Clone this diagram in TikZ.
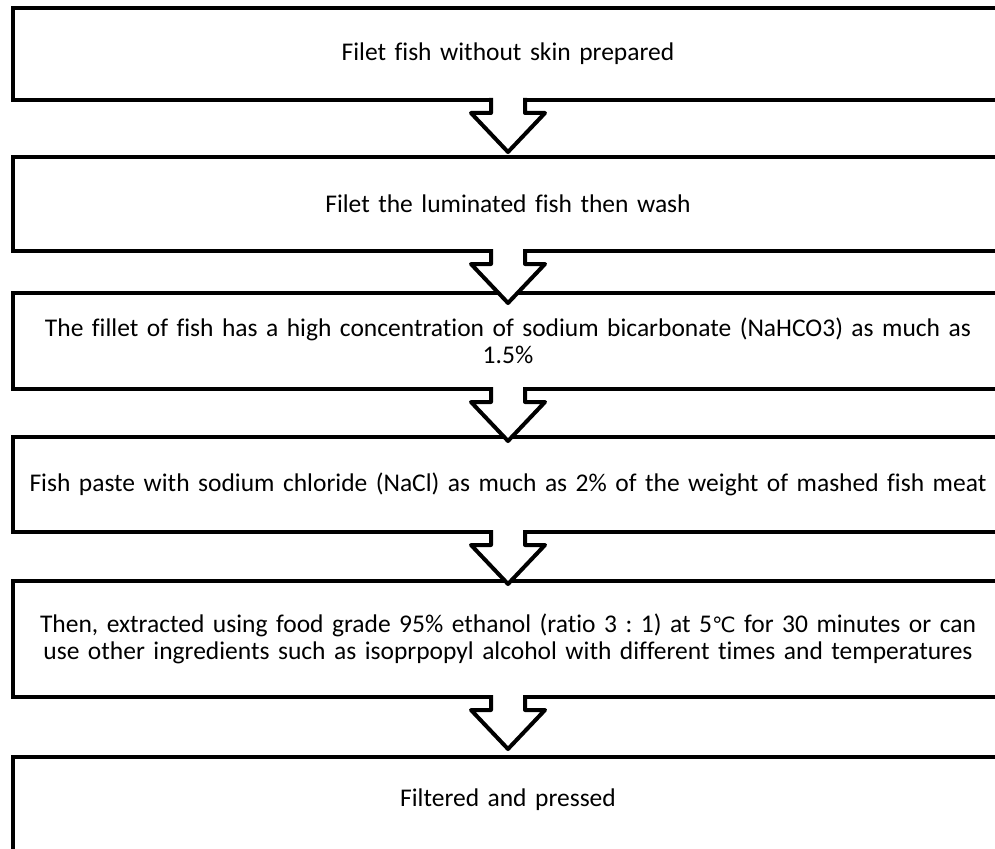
\documentclass[tikz,border=0pt]{standalone}
\usepackage{fontspec}
\setmainfont{Carlito}[Ligatures=NoCommon]
\newfontfamily\degfont{DejaVu Sans}
\usetikzlibrary{calc}
\frenchspacing

\tikzset{
  stepbox/.style={draw=black, line width=4pt, outer sep=0pt, minimum width=990pt,
    text width=980pt, inner xsep=5pt, align=center, font=\fontsize{25.5}{27}\selectfont},
  blockarrow/.style={draw=black, fill=white, line width=4pt, line join=round}
}

\begin{document}
\begin{tikzpicture}[x=1pt,y=-1pt]
    \useasboundingbox (0,0) rectangle (995,848);
    \clip (0,0) rectangle (995,848);

    % Process steps
    \node[stepbox,minimum height=92pt] (prepare) at (508,54) {Filet fish without skin prepared};
    \node[stepbox,minimum height=94pt] (wash) at (508,204) {Filet the luminated fish then wash};
    \node[stepbox,minimum height=96pt] (soak) at (508,341) {The fillet of fish has a high concentration of sodium bicarbonate (NaHCO3) as much as\\ 1.5\%};
    \node[stepbox,minimum height=95pt] (paste) at (508,484.5) {Fish paste with sodium chloride (NaCl) as much as 2\% of the weight of mashed fish meat};
    \node[stepbox,minimum height=116pt] (extract) at (508,639) {Then, extracted using food grade 95\% ethanol (ratio 3 : 1) at 5{\degfont\fontsize{21}{27}\selectfont ℃} for 30 minutes or can\\ use other ingredients such as isoprpopyl alcohol with different times and temperatures};
    \node[stepbox,minimum height=96pt,text depth=14pt] (press) at (508,805) {Filtered and pressed};

    % Block arrows between steps
    \foreach \a/\b in {prepare/wash, wash/soak, soak/paste, paste/extract, extract/press}{
        \draw[blockarrow] let \p1=(\a.south), \p2=(\b.north) in
            (\x2-17pt,\y1+2pt) -- (\x2-17pt,\y1-13pt) -- (\x2-37pt,\y1-13pt) -- (\x2,\y1-52pt)
            -- (\x2+37pt,\y1-13pt) -- (\x2+17pt,\y1-13pt) -- (\x2+17pt,\y1+2pt);
    }
\end{tikzpicture}
\end{document}
